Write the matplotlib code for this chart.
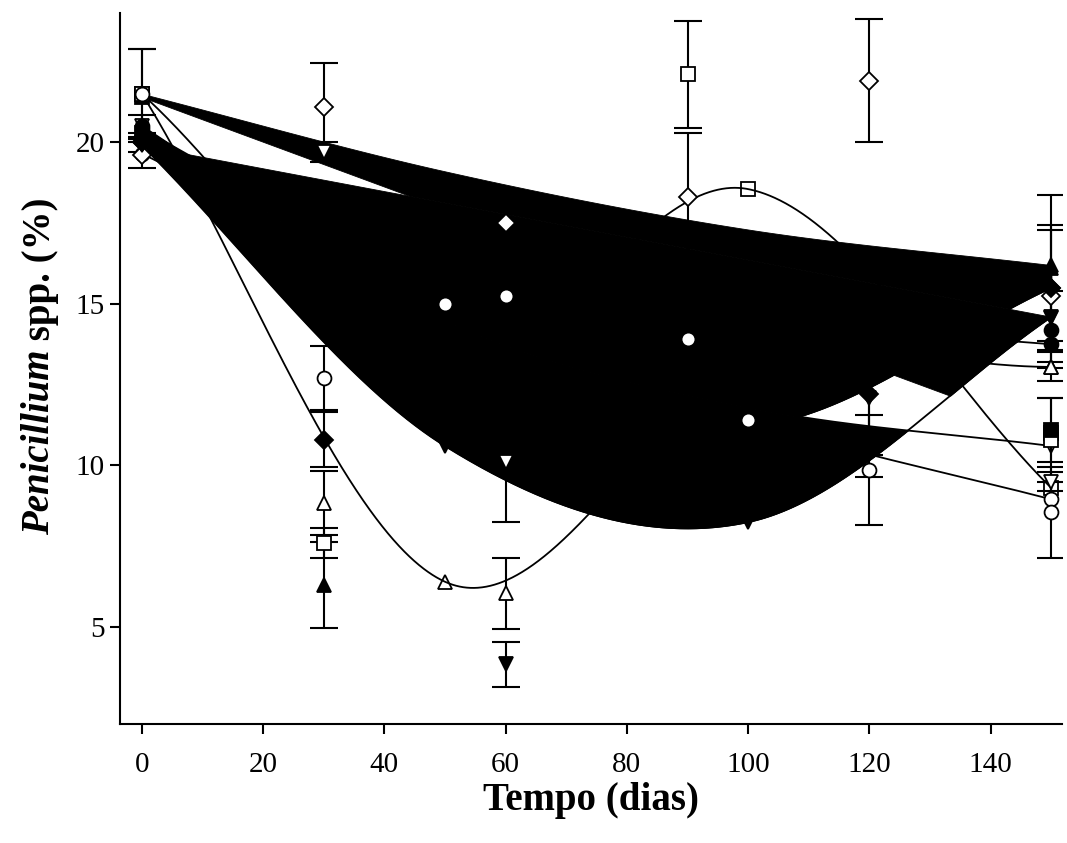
import numpy as np
import matplotlib.pyplot as plt

nan = np.nan

# tempos de amostragem
t_a = [0, 30, 60, 90, 120, 150]
t_b = [0, 50, 100, 150]

# ensaio A (so pontos + erro)
a_oc = [21.5, 12.7, 15.25, 13.9, 9.85, 8.55]
a_oc_err = [1.4, 1.0, 0.9, 1.2, 1.7, 1.4]
a_od = [19.6, 21.1, 17.5, 18.3, 21.9, 15.25]
a_od_err = [0.4, 1.35, 0.6, 2.0, 1.9, 2.05]
a_otd = [20.0, 19.7, 10.1, nan, nan, 9.5]
a_otd_err = [0.3, 0.3, 1.85, nan, nan, 0.3]
a_osq = [21.5, 7.6, nan, 22.1, nan, 10.8]
a_osq_err = [1.4, 0.46, nan, 1.65, nan, 1.3]
a_otu = [nan, 8.84, 6.05, nan, nan, 13.05]
a_otu_err = [nan, 1.0, 1.1, nan, nan, 0.45]
a_ftu = [20.2, 6.3, nan, nan, nan, 16.1]
a_ftu_err = [nan, 1.33, nan, nan, nan, 2.26]
a_fd = [20.0, 10.8, nan, nan, 12.2, 15.5]
a_fd_err = [nan, 0.85, nan, nan, 1.87, 1.93]
a_ftd = [19.9, nan, 3.85, nan, 12.1, 14.55]
a_ftd_err = [nan, nan, 0.7, nan, 2.45, nan]
a_fc = [20.5, nan, nan, nan, nan, 14.2]
a_fc_err = [0.35, nan, nan, nan, nan, 1.2]
a_fsq = [20.3, nan, nan, nan, nan, 11.1]
a_fsq_err = [nan, nan, nan, nan, nan, 1.0]

# ensaio B (curvas)
b_ftd = [19.9, 10.6, 8.25, 14.6]
b_ftu = [21.5, 19.1, 17.3, 16.2]
b_fsq = [21.4, 17.5, 15.5, 11.0]
b_otu = [21.5, 6.4, 13.0, 13.05]
b_osq = [21.5, 13.0, 18.55, 9.3]
b_oc = [19.65, 15.0, 11.4, 8.95]
b_otd = [20.5, 14.5, 11.8, 10.6]
b_fd = [20.0, 14.0, 11.2, 15.5]
b_fc = [20.4, 15.5, 14.5, 13.75]


def spline(x, y, xq):
    x = np.asarray(x, float)
    y = np.asarray(y, float)
    m = np.gradient(y, x)
    m[0] = (y[1] - y[0]) / (x[1] - x[0])
    m[-1] = (y[-1] - y[-2]) / (x[-1] - x[-2])
    i = np.clip(np.searchsorted(x, xq, side='right') - 1, 0, len(x) - 2)
    h = x[i + 1] - x[i]
    t = (xq - x[i]) / h
    h00 = 2 * t**3 - 3 * t**2 + 1
    h10 = t**3 - 2 * t**2 + t
    h01 = -2 * t**3 + 3 * t**2
    h11 = t**3 - t**2
    return h00 * y[i] + h10 * h * m[i] + h01 * y[i + 1] + h11 * h * m[i + 1]


def chord(x, y, xq):
    return np.interp(xq, [x[0], x[-1]], [y[0], y[-1]])


plt.rcParams['font.family'] = ['Liberation Serif', 'DejaVu Serif']

fig = plt.figure(figsize=(10.67, 8.43), dpi=100)
ax = fig.add_axes([0.1125, 0.1412, 0.8825, 0.8434])

ms = 10
mew = 1.3

# areas pretas entre as curvas ajustadas
xx = np.linspace(0, 150, 1501)
f1 = spline(t_b, b_ftd, xx)
lo = spline(t_b, b_otd, xx)
rise = spline(t_b, b_fd, xx)
top = spline(t_b, b_ftu, xx)
f1c = chord(t_b, b_ftd, xx)
cc = chord(t_b, b_fsq, xx)

lb = np.maximum.reduce([lo, f1, np.minimum(rise, cc)])
ub = np.maximum.reduce([f1c, cc, rise])
kw = dict(color='k', lw=0.6, ec='k', interpolate=True, zorder=2)
ax.fill_between(xx, f1, lo, where=f1 <= lo, **kw)
ax.fill_between(xx, lb, f1c, where=lb <= f1c, **kw)
ax.fill_between(xx, ub, top, where=ub <= top, **kw)

# curvas de linha
for yy in [b_ftd, b_otu, b_osq, b_oc, b_otd, b_fd, b_fc]:
    ax.plot(xx, spline(t_b, yy, xx), color='k', lw=1.3, zorder=2)

# pontos ensaio B (os que ficam dentro da area preta ficam por baixo)
ends = [0, 3]
every = [0, 1, 2, 3]
b_marks = [(b_ftd, 'v', 'k', every), (b_ftu, '^', 'k', ends),
           (b_fsq, 's', 'k', ends), (b_otu, '^', 'w', every),
           (b_osq, 's', 'w', every), (b_otd, 'v', 'w', every),
           (b_fd, 'D', 'k', ends), (b_fc, 'o', 'k', ends)]
for yy, mk, fc, idx in b_marks:
    ax.plot([t_b[i] for i in idx], [yy[i] for i in idx], ls='none', marker=mk,
            ms=ms if mk != 'D' else ms - 1, mfc=fc, mec='k', mew=mew, zorder=1)
ax.plot(t_b, b_oc, ls='none', marker='o', ms=ms, mfc='w', mec='k', mew=mew, zorder=4)

# ensaio A
a_series = [
    (a_osq, a_osq_err, 's', 'w'),
    (a_od, a_od_err, 'D', 'w'),
    (a_otd, a_otd_err, 'v', 'w'),
    (a_otu, a_otu_err, '^', 'w'),
    (a_ftu, a_ftu_err, '^', 'k'),
    (a_fd, a_fd_err, 'D', 'k'),
    (a_ftd, a_ftd_err, 'v', 'k'),
    (a_fc, a_fc_err, 'o', 'k'),
    (a_fsq, a_fsq_err, 's', 'k'),
    (a_oc, a_oc_err, 'o', 'w'),
]
for yy, ee, mk, fc in a_series:
    ax.errorbar(t_a, yy, yerr=ee, fmt='none', ecolor='k', elinewidth=1.5,
                capsize=10, capthick=1.5, zorder=3)
    ax.plot(t_a, yy, ls='none', marker=mk, ms=ms if mk != 'D' else ms - 1,
            mfc=fc, mec='k', mew=mew, zorder=4)

ax.set_xlim(-3.6, 151.7)
ax.set_ylim(2, 24)
ax.set_xticks([0, 20, 40, 60, 80, 100, 120, 140])
ax.set_yticks([5, 10, 15, 20])
for s in ['top', 'right']:
    ax.spines[s].set_visible(False)
for s in ['left', 'bottom']:
    ax.spines[s].set_linewidth(1.5)
ax.tick_params(direction='out', length=7, width=1.5, labelsize=21)
ax.tick_params(axis='x', pad=13)
ax.tick_params(axis='y', pad=4)

fig.text(0.554, 0.051, 'Tempo (dias)', fontsize=28, fontweight='bold',
         ha='center', va='center')

# rotulo y com parte em italico
t1 = fig.text(0.0375, 0.365, 'Penicillium', rotation=90, fontsize=28,
              fontweight='bold', fontstyle='italic', ha='center', va='bottom')
fig.canvas.draw()
bb = t1.get_window_extent()
top_y = fig.transFigure.inverted().transform((0, bb.y1))[1]
fig.text(0.0375, top_y, ' spp. (%)', rotation=90, fontsize=28,
         fontweight='bold', ha='center', va='bottom')

fig.savefig('out.png', dpi=100)
